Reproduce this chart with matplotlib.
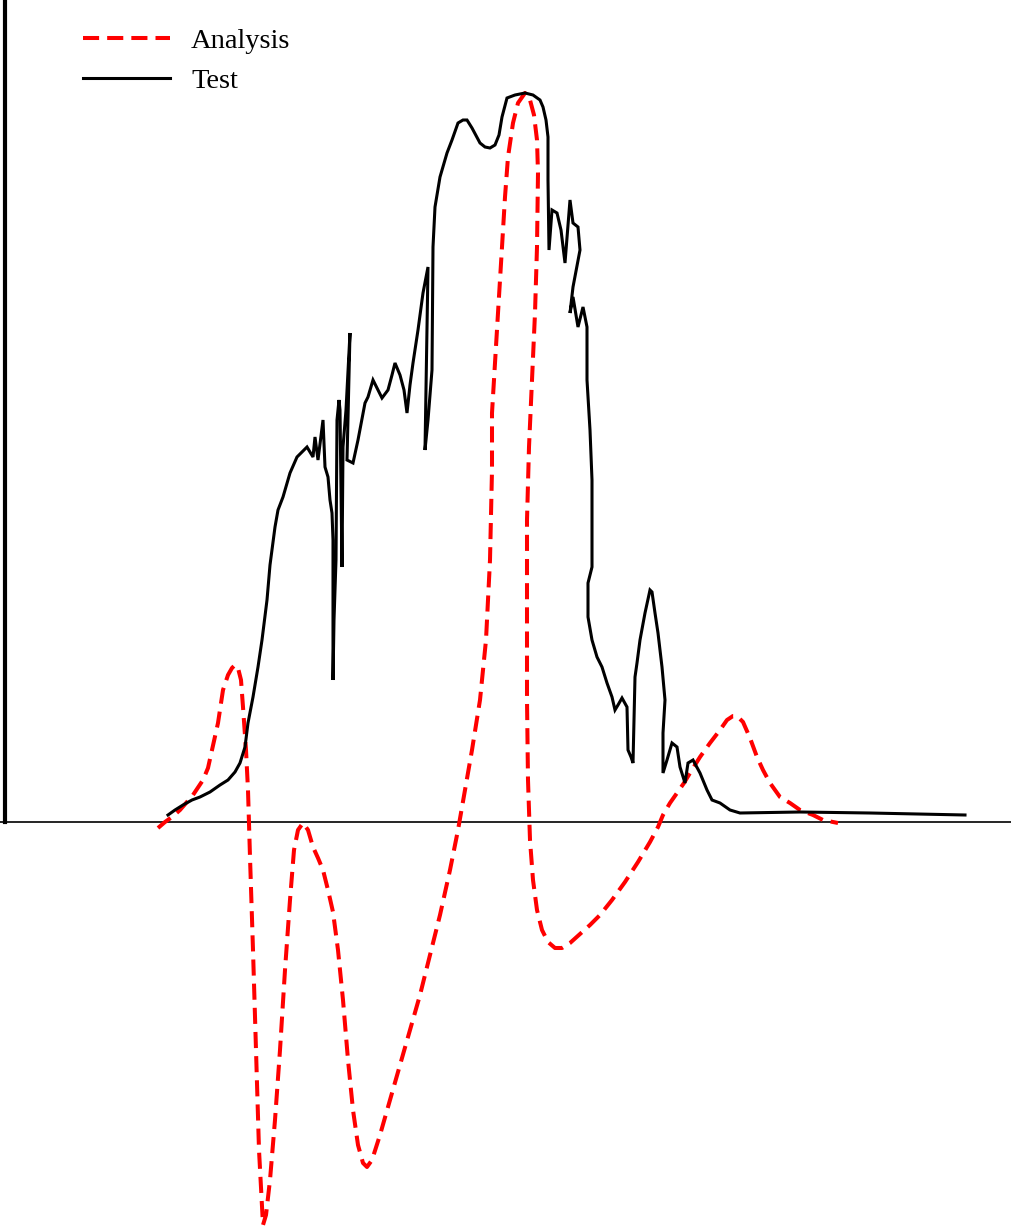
import matplotlib
matplotlib.use("Agg")
import matplotlib.pyplot as plt
import numpy as np

# Test (measured) response: x position, signal height
test_x = [168, 175, 183, 192, 200, 210, 220, 228, 235, 240, 245, 248, 253, 258, 262, 267, 270, 275, 278, 283,
          290, 297, 307, 313, 315, 318, 323, 325, 328, 330, 332, 333, 333, 334, 336, 337, 339, 340, 342, 343,
          346, 350, 347, 353, 358, 365, 368, 373, 378, 382, 388, 392, 395, 400, 404, 407, 410, 413, 418,
          423, 428, 425, 428, 432, 433, 435, 440, 447, 452, 458, 463, 467, 472, 480, 485, 490, 495, 499, 502,
          507, 515, 525, 533, 540, 543, 546, 548, 548, 549, 552, 557, 561, 565, 570, 573, 578, 580, 573, 570,
          573, 578, 583, 587, 587, 590, 592, 592, 588, 588, 592, 597, 602, 607, 612, 615, 618, 622, 627, 628,
          631, 633, 635, 637, 640, 645, 650, 652, 655, 658, 662, 665, 663, 663, 667, 672, 677, 680, 685, 688,
          693, 700, 707, 712, 720, 730, 740, 800, 870, 965]
test_y = [7, 12, 17, 22, 25, 30, 37, 42, 50, 59, 75, 99, 125, 155, 182, 222, 257, 295, 312, 325,
          349, 365, 375, 365, 385, 362, 402, 355, 345, 322, 309, 282, 142, 202, 262, 402, 422, 412, 255, 375,
          412, 489, 362, 359, 382, 419, 425, 442, 432, 424, 432, 447, 459, 447, 432, 409, 437, 459, 492,
          529, 555, 372, 402, 452, 575, 615, 645, 669, 682, 699, 702, 702, 694, 679, 675, 674, 677, 687, 705,
          724, 727, 729, 727, 722, 715, 702, 685, 642, 572, 612, 609, 592, 559, 622, 599, 595, 572, 535, 509,
          525, 495, 515, 495, 442, 392, 342, 255, 239, 205, 182, 165, 155, 139, 125, 112, 117, 124, 115, 72,
          65, 59, 145, 159, 182, 209, 232, 230, 209, 189, 155, 122, 89, 49, 62, 79, 75, 55, 39, 59,
          62, 49, 32, 22, 19, 12, 9, 10, 9, 7]

# Analysis response
analysis_x = [158, 165, 172, 180, 193, 203, 208, 212, 218, 223, 228, 232, 235, 238, 241, 243, 246, 248, 250, 253,
              256, 259, 263, 266, 270, 275, 280, 285, 290, 294, 298, 303, 308, 313, 318, 323, 328, 333, 338, 343,
              348, 353, 358, 363, 367, 372, 380, 390, 400, 410, 420, 430, 440, 450, 458, 465, 472, 480, 486, 490,
              492, 492, 495, 498, 502, 505, 508, 513, 518, 525, 530, 534, 537, 538, 537, 535, 532, 529, 527, 527,
              527, 528, 530, 533, 537, 542, 548, 555, 562, 570, 580, 590, 600, 612, 625, 638, 650, 658, 663, 670,
              677, 684, 690, 700, 710, 720, 727, 733, 737, 743, 750, 757, 763, 770, 780, 790, 800, 813, 823, 838]
analysis_y = [-6, 0, 5, 12, 27, 42, 54, 72, 99, 132, 147, 154, 157, 154, 142, 115, 72, 32, -35, -128,
              -228, -328, -403, -393, -358, -298, -228, -148, -78, -28, -8, -1, -8, -25, -36, -48, -68, -90, -128, -178,
              -238, -288, -323, -341, -345, -338, -313, -278, -243, -208, -173, -133, -93, -48, -8, 32, 72, 122, 182, 262,
              352, 409, 459, 509, 575, 625, 665, 699, 719, 729, 722, 707, 682, 649, 575, 509, 442, 375, 302, 222,
              122, 42, -18, -58, -88, -108, -120, -126, -126, -121, -112, -103, -93, -78, -60, -40, -20, -5, 7, 19,
              29, 39, 49, 65, 79, 92, 102, 106, 106, 100, 84, 65, 52, 39, 25, 19, 12, 7, 2, -1]

W, H = 1012, 1231
fig = plt.figure(figsize=(W / 100, H / 100), dpi=100)
ax = fig.add_axes([0, 0, 1, 1])
ax.set_xlim(0, 1012)
ax.set_ylim(-409, 822)

l_an, = ax.plot(analysis_x, analysis_y, color="#ff0000", lw=2.9, linestyle=(0, (4, 2)),
                label="Analysis", zorder=3)
l_te, = ax.plot(test_x, test_y, color="black", lw=2.2, label="Test", zorder=4,
                solid_joinstyle="miter")

for s in ["top", "right"]:
    ax.spines[s].set_visible(False)
ax.spines["left"].set_position(("data", 5))
ax.spines["left"].set_bounds(0, 822)
ax.spines["left"].set_linewidth(3.0)
ax.spines["bottom"].set_position(("data", 0))
ax.spines["bottom"].set_linewidth(1.2)
ax.set_xticks([])
ax.set_yticks([])

ax.legend(handles=[l_an, l_te], loc="upper left",
          bbox_to_anchor=(83 / W, 1 - 28 / H), bbox_transform=fig.transFigure,
          frameon=False, borderpad=0, borderaxespad=0, handlelength=3.05,
          handletextpad=0.75, labelspacing=0.5,
          prop={"family": "Liberation Serif", "size": 20.5})

fig.savefig("out.png", dpi=100)
